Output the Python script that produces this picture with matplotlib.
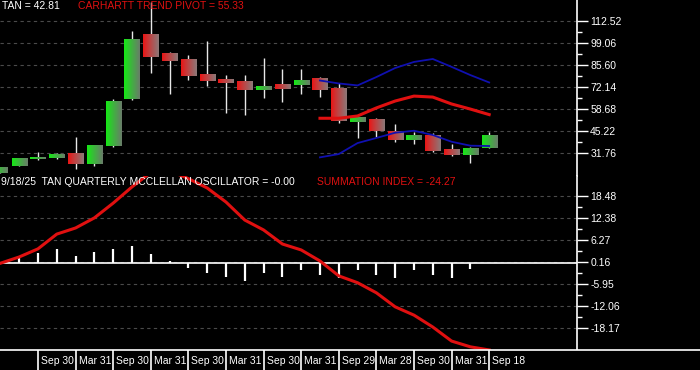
import matplotlib
matplotlib.use("Agg")
import matplotlib.pyplot as plt
import numpy as np

plt.rcParams['font.family'] = ['Liberation Sans', 'DejaVu Sans']

# ---------------- data ----------------
opens  = [19.8, 24.0, 28.3, 28.9, 31.3, 25.2, 36.2, 64.8, 104.4, 92.8, 88.6, 80.0, 77.0, 75.2,
          70.3, 73.4, 73.4, 77.0, 70.9, 50.8, 52.0, 45.3, 39.9, 42.9, 33.8, 30.7, 35.0]
highs  = [23.4, 28.9, 32.5, 31.9, 41.7, 36.8, 64.8, 106.2, 123.9, 93.4, 91.6, 100.2, 79.4, 79.4,
          89.8, 83.1, 83.1, 78.2, 74.6, 53.9, 53.3, 49.6, 44.7, 44.1, 37.4, 35.6, 44.7]
lows   = [19.8, 24.0, 27.7, 28.3, 22.2, 24.0, 35.6, 64.2, 80.7, 67.7, 76.4, 72.8, 56.3, 55.1,
          65.4, 63.0, 67.9, 66.0, 50.2, 41.1, 41.7, 38.7, 37.4, 32.5, 30.1, 25.9, 35.0]
closes = [23.4, 28.3, 29.5, 31.3, 25.2, 36.2, 63.6, 100.8, 90.4, 88.0, 78.8, 75.8, 74.6, 70.3,
          72.7, 70.9, 76.4, 70.3, 51.4, 53.3, 45.3, 39.9, 42.9, 33.2, 30.7, 34.4, 42.81]

band_start = 17
band_upper = [76.1, 74.3, 73.1, 78.2, 83.7, 87.4, 89.2, 84.4, 79.4, 74.9]
band_mid   = [53.1, 53.1, 54.5, 59.4, 63.6, 66.6, 66.0, 61.8, 58.7, 55.33]
band_lower = [29.3, 31.3, 38.0, 41.1, 44.3, 45.5, 42.9, 38.8, 36.4, 36.2]

oscillator = [0.0, 1.4, 2.6, 3.7, 1.75, 2.9, 3.7, 4.5, 2.3, 0.3, -1.6, -3.0, -4.0, -5.1,
              -3.0, -4.0, -2.0, -3.4, -4.2, -2.2, -3.4, -4.2, -2.2, -3.4, -4.2, -1.9, -0.05]
summation = [-0.2, 1.55, 3.8, 7.9, 9.6, 12.4, 16.5, 21.0, 25.0, 25.5, 23.3, 20.7, 16.8, 11.8,
             9.05, 5.15, 3.5, 0.44, -3.7, -5.6, -8.4, -12.3, -14.6, -17.9, -21.8, -23.4, -24.27]

price_ticks = [31.76, 45.22, 58.68, 72.14, 85.60, 99.06, 112.52]
osc_ticks = [-18.17, -12.06, -5.95, 0.16, 6.27, 12.38, 18.48]
date_pos = [2, 4, 6, 8, 10, 12, 14, 16, 18, 20, 22, 24, 26]
date_labels = ["Sep 30", "Mar 31", "Sep 30", "Mar 31", "Sep 30", "Mar 31", "Sep 30",
               "Mar 31", "Sep 29", "Mar 28", "Sep 30", "Mar 31", "Sep 18"]

# ---------------- figure ----------------
W, H = 700, 370
fig = plt.figure(figsize=(7, 3.7), dpi=100, facecolor='black')
px = 18.8           # pixels per candle
x0 = -0.02
xmax = x0 + 577 / px

ax1 = fig.add_axes([0, 1 - 176 / H, 577 / W, 176 / H], facecolor='black')
ax2 = fig.add_axes([0, 20 / H, 577 / W, 174 / H], facecolor='black')
ax3 = fig.add_axes([0, 0, 1, 20 / H], facecolor='black')

GRID = '#4a4a4a'

def style_axis(ax, ticks, ylim):
    ax.set_xlim(x0, xmax)
    ax.set_ylim(*ylim)
    for s in ['left', 'top', 'bottom']:
        ax.spines[s].set_visible(False)
    ax.spines['right'].set_color('white')
    ax.spines['right'].set_linewidth(1.2)
    ax.set_xticks([])
    ax.yaxis.tick_right()
    ax.set_yticks(ticks)
    ax.set_yticklabels(['%.2f' % t for t in ticks])
    minors = [(ticks[i] + ticks[i + 1]) / 2 for i in range(len(ticks) - 1)]
    ax.set_yticks(minors, minor=True)
    ax.tick_params(axis='y', which='major', colors='white', length=8, width=1,
                   labelsize=7.5, pad=1.5)
    ax.tick_params(axis='y', which='minor', colors='white', length=3.8, width=1)
    for t in ticks:
        ax.axhline(t, color=GRID, lw=0.8, ls=(0, (3, 3)), zorder=0)

style_axis(ax1, price_ticks, (17.94, 125.12))
style_axis(ax2, osc_ticks, (-24.28, 24.03))

# ---------------- candles ----------------
def gradient(c_left, c_right, n=32):
    t = np.linspace(0, 1, n) ** 0.9
    cl = np.array(c_left) / 255.0
    cr = np.array(c_right) / 255.0
    arr = cl[None, :] * (1 - t[:, None]) + cr[None, :] * t[:, None]
    return arr[None, :, :]

green_grad = gradient((20, 235, 20), (105, 125, 105))
red_grad = gradient((235, 20, 20), (140, 120, 120))

bw = 0.4
for i, (o, h, l, c) in enumerate(zip(opens, highs, lows, closes)):
    ax1.vlines(i, l, h, color='#e8e8e8', lw=1.0, zorder=2)
    lo, hi = min(o, c), max(o, c)
    img = green_grad if c >= o else red_grad
    ax1.imshow(img, extent=[i - bw, i + bw, lo, hi], aspect='auto',
               interpolation='bilinear', zorder=3)
ax1.set_xlim(x0, xmax)
ax1.set_ylim(17.94, 125.12)

bx = np.arange(band_start, band_start + len(band_mid))
ax1.plot(bx, band_upper, color='#1010b0', lw=1.3, zorder=4)
ax1.plot(bx, band_lower, color='#1010b0', lw=1.3, zorder=4)
ax1.plot(bx, band_mid, color='#e01010', lw=2.2, zorder=4)

# ---------------- oscillator ----------------
xi = np.arange(len(oscillator))
ax2.axhline(0, color='white', lw=1.2, zorder=2)
ax2.vlines(xi, 0, oscillator, color='white', lw=1.6, zorder=3)
ax2.plot(xi, summation, color='#e01010', lw=2.2, zorder=4)

# ---------------- date strip ----------------
ax3.set_xlim(x0, x0 + W / px)
ax3.set_ylim(0, 1)
for s in ['left', 'right', 'bottom']:
    ax3.spines[s].set_visible(False)
ax3.spines['top'].set_color('white')
ax3.spines['top'].set_linewidth(1.2)
ax3.set_xticks([])
ax3.set_yticks([])
for p, lab in zip(date_pos, date_labels):
    ax3.axvline(p, color='white', lw=1.2)
    ax3.text(p + 3 / px, 0.47, lab, color='white', fontsize=7.5, ha='left', va='center')

# ---------------- header texts ----------------
def ftext(xp, yp, s, color):
    fig.text(xp / W, 1 - yp / H, s, color=color, fontsize=7.5, ha='left', va='center')

ftext(2, 6, "TAN = 42.81", 'white')
ftext(78, 6, "CARHARTT TREND PIVOT = 55.33", '#e01010')
ftext(1, 182, "9/18/25  TAN QUARTERLY MCCLELLAN OSCILLATOR = -0.00", 'white')
ftext(317, 182, "SUMMATION INDEX = -24.27", '#e01010')

fig.savefig('out.png', dpi=100, facecolor='black')
